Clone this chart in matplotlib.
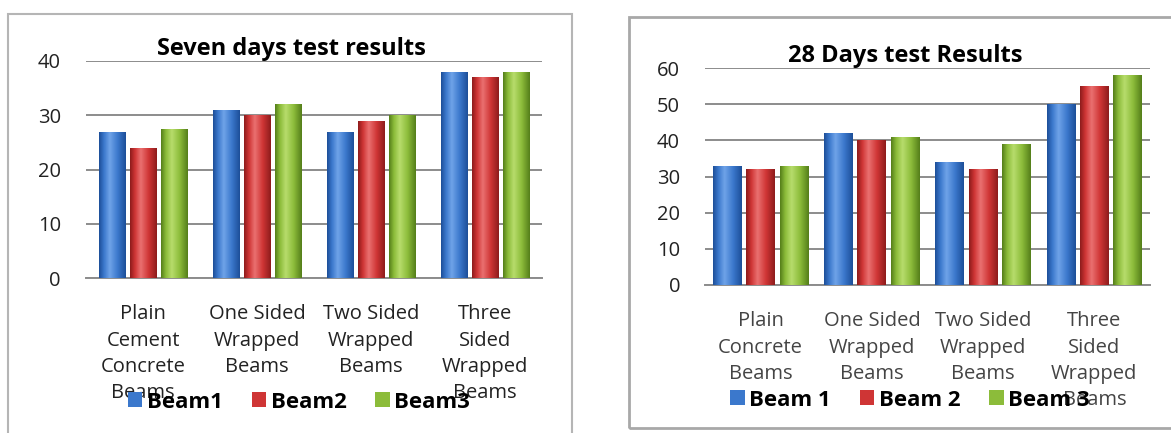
import matplotlib.pyplot as plt
import numpy as np
from matplotlib.colors import LinearSegmentedColormap
from matplotlib.patches import Rectangle, Patch

plt.rcParams['font.family'] = ['Open Sans', 'DejaVu Sans']

# seven days chart
cats7 = ['Plain\nCement\nConcrete\nBeams', 'One Sided\nWrapped\nBeams',
         'Two Sided\nWrapped\nBeams', 'Three\nSided\nWrapped\nBeams']
beam1_7 = [27, 31, 27, 38]
beam2_7 = [24, 30, 29, 37]
beam3_7 = [27.5, 32, 30, 38]
names7 = ['Beam1', 'Beam2', 'Beam3']

# 28 days chart
cats28 = ['Plain\nConcrete\nBeams', 'One Sided\nWrapped\nBeams',
          'Two Sided\nWrapped\nBeams', 'Three\nSided\nWrapped\nBeams']
beam1_28 = [33, 42, 34, 50]
beam2_28 = [32, 40, 32, 55]
beam3_28 = [33, 41, 39, 58]
names28 = ['Beam 1', 'Beam 2', 'Beam 3']

colors = ['#3b78cc', '#cf3535', '#8cbc3a']
shades = [['#1d4f99', '#3b78cc', '#6fa3e8', '#3b78cc', '#1d4f99'],
          ['#8e1c1c', '#cf3535', '#ea7070', '#cf3535', '#8e1c1c'],
          ['#557f1a', '#8cbc3a', '#b7dc6c', '#8cbc3a', '#557f1a']]

W, H = 1171, 433
fig = plt.figure(figsize=(W / 100, H / 100), dpi=100)


def fx(px):
    return px / W


def fy(py):
    return 1 - py / H


# chart frames
fig.patches.append(Rectangle((fx(8), fy(440)), fx(564), fy(14) - fy(440),
                             transform=fig.transFigure, fill=False,
                             edgecolor='#b5b5b5', lw=1.5))
fig.patches.append(Rectangle((fx(629), fy(428)), fx(560), fy(17) - fy(428),
                             transform=fig.transFigure, fill=False,
                             edgecolor='#a8a8a8', lw=2))


def draw(ax, cats, series, names, ymax, title, width, step, lab_color, leg_pos):
    x = np.arange(len(cats))
    for i, vals in enumerate(series):
        bars = ax.bar(x + (i - 1) * step, vals, width, color=colors[i],
                      edgecolor='none', zorder=3)
        cmap = LinearSegmentedColormap.from_list('g', list(zip([0, 0.18, 0.4, 0.7, 1], shades[i])))
        grad = np.linspace(0, 1, 64).reshape(1, -1)
        for b in bars:
            x0, y0 = b.get_x(), b.get_y()
            im = ax.imshow(grad, cmap=cmap, aspect='auto', zorder=4,
                           extent=(x0, x0 + b.get_width(), y0, y0 + b.get_height()))
            im.set_clip_path(b)
    ax.set_xlim(-0.5, len(cats) - 0.5)
    ax.set_ylim(0, ymax)
    ax.set_yticks(np.arange(0, ymax + 1, 10))
    ax.yaxis.grid(True, color='#8c8c8c', lw=1.4, zorder=0)
    ax.set_axisbelow(True)
    for s in ['left', 'right', 'top']:
        ax.spines[s].set_visible(False)
    ax.spines['bottom'].set_color('#8c8c8c')
    ax.spines['bottom'].set_linewidth(1.4)
    ax.set_xticks(x)
    ax.set_xticklabels(cats, fontsize=14.5, color=lab_color, linespacing=1.42)
    ax.tick_params(axis='x', length=0, pad=19)
    ax.tick_params(axis='y', length=0, pad=18, labelsize=14.5, labelcolor='#222222')
    ax.set_title(title, fontsize=17, fontweight='bold', pad=2, x=0.45)
    handles = [Patch(facecolor=colors[i], edgecolor='none') for i in range(3)]
    fig.legend(handles, names, loc='center', bbox_to_anchor=leg_pos, ncol=3,
               frameon=False, prop={'weight': 'bold', 'size': 16},
               handlelength=0.65, handleheight=0.65, handletextpad=0.2,
               columnspacing=1.3)


ax1 = fig.add_axes([fx(86), fy(278), fx(542 - 86), fy(61) - fy(278)])
draw(ax1, cats7, [beam1_7, beam2_7, beam3_7], names7, 40,
     'Seven days test results', 0.23, 0.27, '#222222', (fx(299), fy(402)))

ax2 = fig.add_axes([fx(705), fy(285), fx(1150 - 705), fy(68) - fy(285)])
draw(ax2, cats28, [beam1_28, beam2_28, beam3_28], names28, 60,
     '28 Days test Results', 0.26, 0.3, '#444444', (fx(910), fy(400)))

fig.savefig('out.png', dpi=100)
